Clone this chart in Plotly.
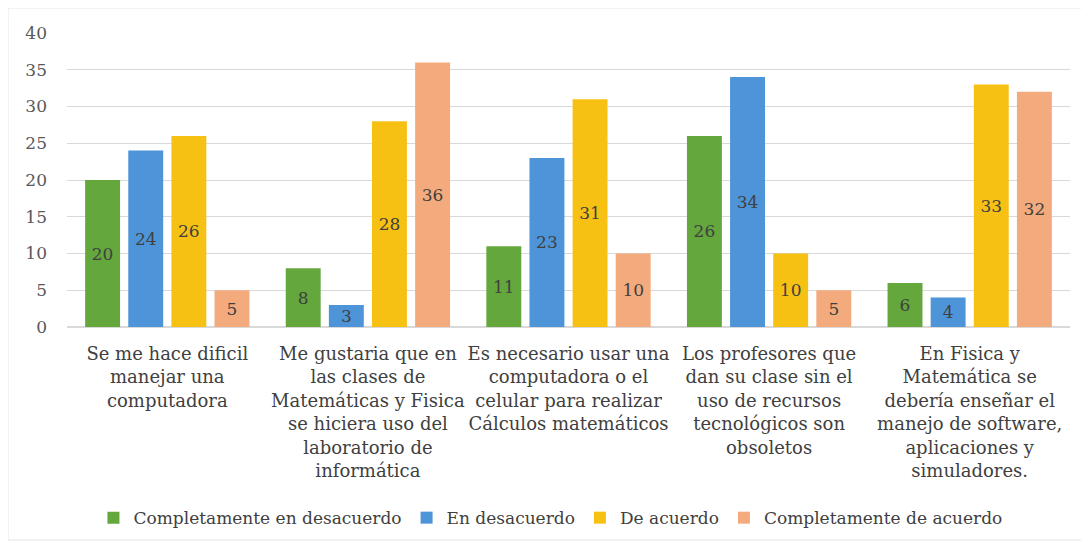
import plotly.graph_objects as go

categories = [
    "Se me hace dificil<br>manejar una<br>computadora",
    "Me gustaria que en<br>las clases de<br>Matemáticas y Fisica<br>se hiciera uso del<br>laboratorio de<br>informática",
    "Es necesario usar una<br>computadora o el<br>celular para realizar<br>Cálculos matemáticos",
    "Los profesores que<br>dan su clase sin el<br>uso de recursos<br>tecnológicos son<br>obsoletos",
    "En Fisica y<br>Matemática se<br>debería enseñar el<br>manejo de software,<br>aplicaciones y<br>simuladores.",
]
series_names = ["Completamente en desacuerdo", "En desacuerdo", "De acuerdo", "Completamente de acuerdo"]
completamente_en_desacuerdo = [20, 8, 11, 26, 6]
en_desacuerdo = [24, 3, 23, 34, 4]
de_acuerdo = [26, 28, 31, 10, 33]
completamente_de_acuerdo = [5, 36, 10, 5, 32]
values = [completamente_en_desacuerdo, en_desacuerdo, de_acuerdo, completamente_de_acuerdo]
colors = ["#63A73D", "#4D94D9", "#F7C114", "#F3AB7E"]
y_ticks = [0, 5, 10, 15, 20, 25, 30, 35, 40]

FONT = "DejaVu Serif, serif"
fig = go.Figure()
for name, vals, col in zip(series_names, values, colors):
    fig.add_trace(go.Bar(
        name=name, x=categories, y=vals,
        marker=dict(color=col, line=dict(width=0)),
        text=[str(v) for v in vals], textposition="inside",
        insidetextanchor="middle", textangle=0,
        textfont=dict(family=FONT, size=17, color="#404040"),
        constraintext="none",
    ))

fig.update_layout(
    width=1081, height=540,
    barmode="group", bargap=0.14, bargroupgap=0.19,
    plot_bgcolor="white", paper_bgcolor="white",
    margin=dict(l=59, r=19, t=25, b=221),
    font=dict(family=FONT, size=16, color="#404040"),
    uniformtext=dict(minsize=17, mode="show"),
    legend=dict(orientation="h", x=0.482, xanchor="center", y=-0.65, yanchor="middle",
                font=dict(family=FONT, size=17, color="#404040"),
                itemwidth=30, traceorder="normal"),
    showlegend=True,
)
fig.update_yaxes(range=[0, 40], tickvals=y_ticks, showgrid=True, gridcolor="#D9D9D9",
                 zeroline=True, zerolinecolor="#D9D9D9", showline=False,
                 tickfont=dict(family=FONT, size=17, color="#595959"), ticklabelstandoff=19)
fig.update_xaxes(showline=False, tickfont=dict(family=FONT, size=18, color="#404040"), ticks="",
                 ticklabelstandoff=14)
fig.add_shape(type="rect", xref="paper", yref="paper", x0=-59/1003, x1=1+12/1003, y0=-213/294, y1=1+25/294,
              line=dict(color="#E6E6E6", width=1), fillcolor="rgba(0,0,0,0)")
fig.write_html("out.html")
